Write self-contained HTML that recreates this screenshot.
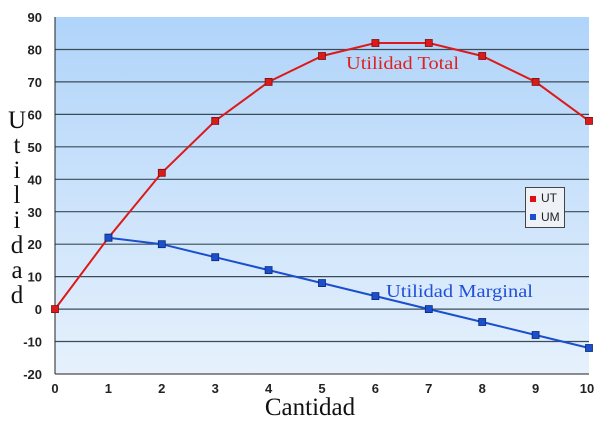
<!DOCTYPE html><html><head><style>body{margin:0;background:#fff}</style></head><body>
<svg width="600" height="420" xmlns="http://www.w3.org/2000/svg">
<defs><linearGradient id="g" x1="0" y1="0" x2="0" y2="1"><stop offset="0" stop-color="#b0d4fa"/><stop offset="1" stop-color="#e6f1fc"/></linearGradient></defs>
<rect x="55" y="17" width="534" height="357" fill="url(#g)"/>
<g stroke="#3a4c5a" stroke-width="1.2">
<line x1="55" x2="589" y1="49.5" y2="49.5"/><line x1="55" x2="589" y1="81.9" y2="81.9"/><line x1="55" x2="589" y1="114.4" y2="114.4"/><line x1="55" x2="589" y1="146.8" y2="146.8"/><line x1="55" x2="589" y1="179.3" y2="179.3"/><line x1="55" x2="589" y1="211.7" y2="211.7"/><line x1="55" x2="589" y1="244.2" y2="244.2"/><line x1="55" x2="589" y1="276.6" y2="276.6"/><line x1="55" x2="589" y1="309.1" y2="309.1"/><line x1="55" x2="589" y1="341.5" y2="341.5"/>
</g>
<g stroke="#222" stroke-width="1"><line x1="55" y1="17" x2="55" y2="374"/><line x1="55" y1="374" x2="589" y2="374"/></g>
<g font-family="Liberation Sans,sans-serif" font-weight="bold" font-size="13" fill="#222" text-anchor="end">
<text x="42" y="22">90</text><text x="42" y="54.5">80</text><text x="42" y="87">70</text><text x="42" y="119.5">60</text><text x="42" y="152">50</text><text x="42" y="184.5">40</text><text x="42" y="217">30</text><text x="42" y="249">20</text><text x="42" y="281.5">10</text><text x="42" y="314">0</text><text x="42" y="346.5">-10</text><text x="42" y="379">-20</text>
</g>
<g font-family="Liberation Sans,sans-serif" font-weight="bold" font-size="13" fill="#222" text-anchor="middle">
<text x="55" y="393">0</text><text x="108.4" y="393">1</text><text x="161.8" y="393">2</text><text x="215.2" y="393">3</text><text x="268.6" y="393">4</text><text x="322" y="393">5</text><text x="375.4" y="393">6</text><text x="428.8" y="393">7</text><text x="482.2" y="393">8</text><text x="535.6" y="393">9</text><text x="587" y="393">10</text>
</g>
<polyline fill="none" stroke="#dd1a1a" stroke-width="2" points="55,309.1 108.4,237.7 161.8,172.8 215.2,120.9 268.6,81.9 322,56 375.4,43 428.8,43 482.2,56 535.6,81.9 589,120.9"/>
<polyline fill="none" stroke="#1a4fd0" stroke-width="2" points="108.4,237.7 161.8,244.2 215.2,257.2 268.6,270.1 322,283.1 375.4,296.1 428.8,309.1 482.2,322 535.6,335 589,348"/>
<g fill="#dd1a1a" stroke="#7a1010" stroke-width="0.8">
<rect x="51.5" y="305.6" width="7" height="7"/><rect x="104.9" y="234.2" width="7" height="7"/><rect x="158.3" y="169.3" width="7" height="7"/><rect x="211.7" y="117.4" width="7" height="7"/><rect x="265.1" y="78.4" width="7" height="7"/><rect x="318.5" y="52.5" width="7" height="7"/><rect x="371.9" y="39.5" width="7" height="7"/><rect x="425.3" y="39.5" width="7" height="7"/><rect x="478.7" y="52.5" width="7" height="7"/><rect x="532.1" y="78.4" width="7" height="7"/><rect x="585.5" y="117.4" width="7" height="7"/>
</g>
<g fill="#1a4fd0" stroke="#0a2a70" stroke-width="0.8">
<rect x="104.9" y="234.2" width="7" height="7"/><rect x="158.3" y="240.7" width="7" height="7"/><rect x="211.7" y="253.7" width="7" height="7"/><rect x="265.1" y="266.6" width="7" height="7"/><rect x="318.5" y="279.6" width="7" height="7"/><rect x="371.9" y="292.6" width="7" height="7"/><rect x="425.3" y="305.6" width="7" height="7"/><rect x="478.7" y="318.5" width="7" height="7"/><rect x="532.1" y="331.5" width="7" height="7"/><rect x="585.5" y="344.5" width="7" height="7"/>
</g>
<text x="346" y="69" font-family="Liberation Serif,serif" font-size="18" fill="#e02020" textLength="113" lengthAdjust="spacingAndGlyphs">Utilidad Total</text>
<text x="386" y="297" font-family="Liberation Serif,serif" font-size="18" fill="#2050d8" textLength="147" lengthAdjust="spacingAndGlyphs">Utilidad Marginal</text>
<rect x="525.5" y="187.5" width="39" height="40" fill="#eef2f6" stroke="#444"/>
<rect x="530" y="196" width="6" height="6" fill="#e01010"/><text x="541" y="202" font-family="Liberation Sans,sans-serif" font-size="12" fill="#222">UT</text>
<rect x="530" y="214" width="6" height="6" fill="#1a4fd0"/><text x="541" y="221" font-family="Liberation Sans,sans-serif" font-size="12" fill="#222">UM</text>
<g font-family="Liberation Serif,serif" font-size="25" fill="#111" text-anchor="middle">
<text x="17" y="128">U</text><text x="17" y="153">t</text><text x="17" y="178">i</text><text x="17" y="203">l</text><text x="17" y="228">i</text><text x="17" y="253">d</text><text x="17" y="278">a</text><text x="17" y="303">d</text>
<text x="310" y="415">Cantidad</text>
</g>
</svg>
</body></html>
